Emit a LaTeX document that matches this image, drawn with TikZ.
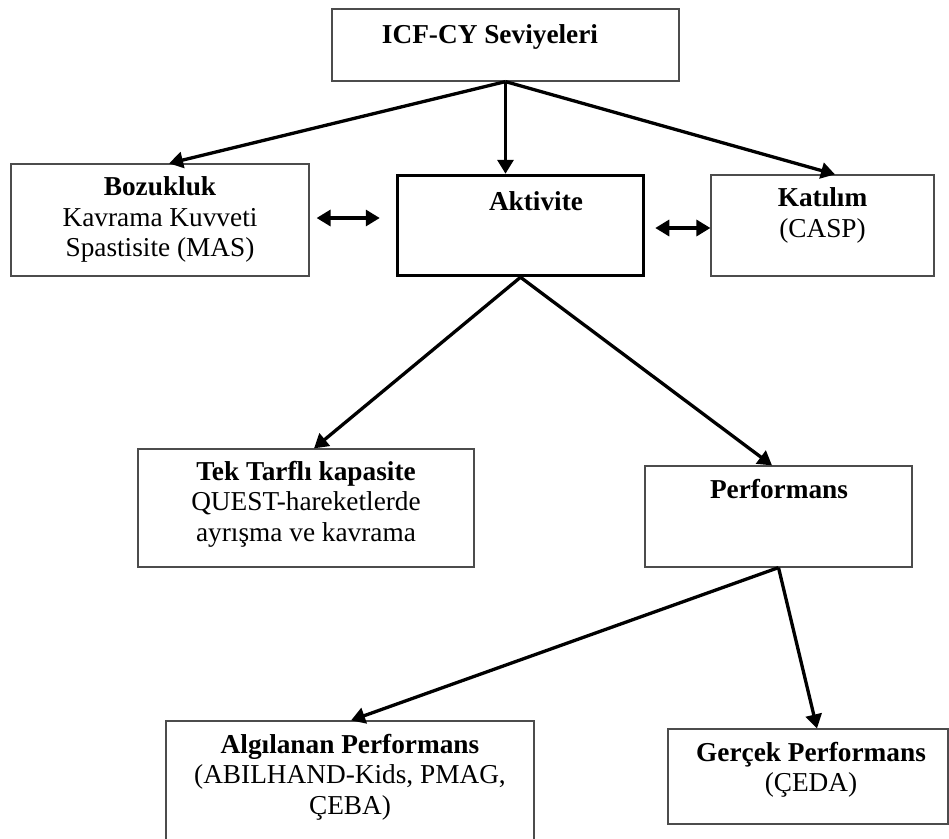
\documentclass[tikz,border=0pt]{standalone}
\usepackage{fontspec}
\setmainfont{Liberation Serif}
\usetikzlibrary{arrows.meta,calc}

\tikzset{
  box/.style={draw=black!70, line width=1.2pt, rectangle, inner sep=0pt},
  boxtext/.style={anchor=north, align=center, inner sep=0pt,
    font=\fontsize{27.3}{30.5}\selectfont, execute at begin node=\strut},
  link/.style={->, line width=3.3pt},
}

\begin{document}
\begin{tikzpicture}[x=1pt, y=-1pt, >={Triangle[length=14pt,width=16pt]}]
\useasboundingbox (0,0) rectangle (949,838);

\node[box, minimum width=347pt, minimum height=72pt] (icf) at (505.5,45) {};
\node[box, minimum width=298pt, minimum height=112pt] (boz) at (160,220) {};
\node[box, draw=black, line width=3.5pt, minimum width=246pt, minimum height=100pt] (akt) at (520.5,225.5) {};
\node[box, minimum width=223pt, minimum height=101pt] (kat) at (822.5,225.5) {};
\node[box, minimum width=336pt, minimum height=118pt] (tek) at (306,508) {};
\node[box, minimum width=267pt, minimum height=101pt] (perf) at (778.5,516.5) {};
\node[box, minimum width=368pt, minimum height=129pt] (alg) at (350,785.5) {};
\node[box, minimum width=280pt, minimum height=95pt] (ger) at (808,776.5) {};

\node[boxtext] (icftxt) at (490,21.6) {\textbf{ICF-CY Seviyeleri}};
\node[boxtext] (boztxt) at (160,176.6) {\textbf{Bozukluk}\\Kavrama Kuvveti\\Spastisite (MAS)};
\node[boxtext] (akttxt) at (536,188.6) {\textbf{Aktivite}};
\node[boxtext] (kattxt) at (822.5,187.6) {\textbf{Katılım}\\(CASP)};
\node[boxtext] (tektxt) at (306,460.6) {\textbf{Tek Tarflı kapasite}\\QUEST-hareketlerde\\ayrışma ve kavrama};
\node[boxtext] (perftxt) at (779,476.6) {\textbf{Performans}};
\node[boxtext] (algtxt) at (350,733.6) {\textbf{Algılanan Performans}\\(ABILHAND-Kids, PMAG,\\ÇEBA)};
\node[boxtext] (gertxt) at (811,741.6) {\textbf{Gerçek Performans}\\(ÇEDA)};

\draw[link] (icf.south) -- ([xshift=9pt]boz.north);
\draw[link] (icf.south) -- (akt.north -| icf.south);
\draw[link] (icf.south) -- ([xshift=12.5pt]kat.north);

\draw[link, <->] ($(boz.east)+(7,-2)$) -- ($(boz.east -| akt.west)+(-16,-2)$);
\draw[link, <->] ($(akt.east)+(10,2.5)$) -- ($(kat.west)+(0,2.5)$);

\draw[link] (akt.south) -- ([xshift=8pt]tek.north);
\draw[link] (akt.south) -- ([xshift=-6.5pt]perf.north);

\draw[link] (perf.south) -- ([xshift=1pt]alg.north);
\draw[link] (perf.south) -- ([xshift=9pt]ger.north);
\end{tikzpicture}
\end{document}
